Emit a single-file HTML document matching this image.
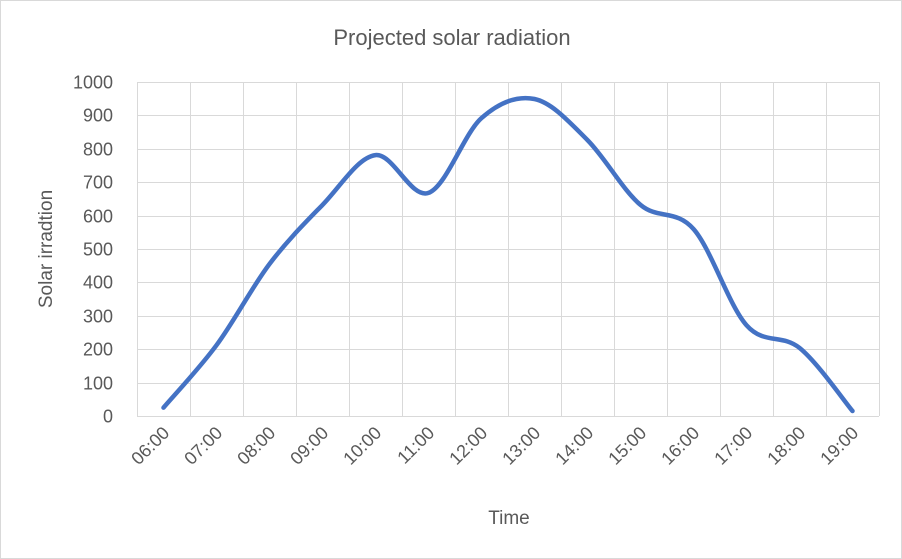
<!DOCTYPE html>
<html><head><meta charset="utf-8"><style>
html,body{margin:0;padding:0;background:#fff;}
svg{display:block;font-family:"Liberation Sans",Calibri,sans-serif;}
</style></head><body>
<svg id="s" width="902" height="559" viewBox="0 0 902 559" xmlns="http://www.w3.org/2000/svg">
<rect x="0.5" y="0.5" width="901" height="558" fill="#fff" stroke="#d9d9d9"/>
<text x="452" y="45" text-anchor="middle" font-size="22" fill="#595959">Projected solar radiation</text>
<g id="grid" stroke="#d9d9d9" stroke-width="1"></g>
<g id="ylab" font-size="18" fill="#595959" text-anchor="end"></g>
<g id="xlab" font-size="18" fill="#595959" text-anchor="end"></g>
<text transform="translate(52,249) rotate(-90)" text-anchor="middle" font-size="19" fill="#595959">Solar irradtion</text>
<text x="509" y="524" text-anchor="middle" font-size="19" fill="#595959">Time</text>
<path id="line" fill="none" stroke="#4472c4" stroke-width="4.5" stroke-linecap="round" stroke-linejoin="round"/>
</svg>
<script>
var NS="http://www.w3.org/2000/svg";
var x0=137,x1=879,y0=416,y1=82,cw=53;
var g=document.getElementById('grid'),yl=document.getElementById('ylab'),xl=document.getElementById('xlab');
function el(t,a,p,txt){var e=document.createElementNS(NS,t);for(var k in a)e.setAttribute(k,a[k]);if(txt!=null)e.textContent=txt;p.appendChild(e);return e;}
for(var v=0;v<=1000;v+=100){var y=y0-(y0-y1)*v/1000;y=Math.round(y)+0.5;
 el('line',{x1:x0,x2:x1,y1:y,y2:y},g);
 el('text',{x:113,y:y+6},yl,String(v));}
for(var i=0;i<=14;i++){var x=Math.round(x0+cw*i)+0.5;el('line',{x1:x,x2:x,y1:y1,y2:y0},g);}
var labs=[];for(var h=6;h<=19;h++)labs.push((h<10?'0':'')+h+':00');
labs.forEach(function(l,i){var cx=x0+cw*(i+0.5)+7,cy=434;
 el('text',{transform:'translate('+cx+','+cy+') rotate(-45)'},xl,l);});
var vals=[25,212,455,632,781,668,892,949,826,632,560,272,204,15];
var P=vals.map(function(v,i){return [x0+cw*(i+0.5),y0-(y0-y1)*v/1000];});
var d='M'+P[0][0]+','+P[0][1];
for(var i=0;i<P.length-1;i++){var a=P[Math.max(i-1,0)],b=P[i],c=P[i+1],e=P[Math.min(i+2,P.length-1)];
 var c1=[b[0]+(c[0]-a[0])/6,b[1]+(c[1]-a[1])/6],c2=[c[0]-(e[0]-b[0])/6,c[1]-(e[1]-b[1])/6];
 d+=' C'+c1[0].toFixed(1)+','+c1[1].toFixed(1)+' '+c2[0].toFixed(1)+','+c2[1].toFixed(1)+' '+c[0].toFixed(1)+','+c[1].toFixed(1);}
document.getElementById('line').setAttribute('d',d);
</script>
</body></html>
